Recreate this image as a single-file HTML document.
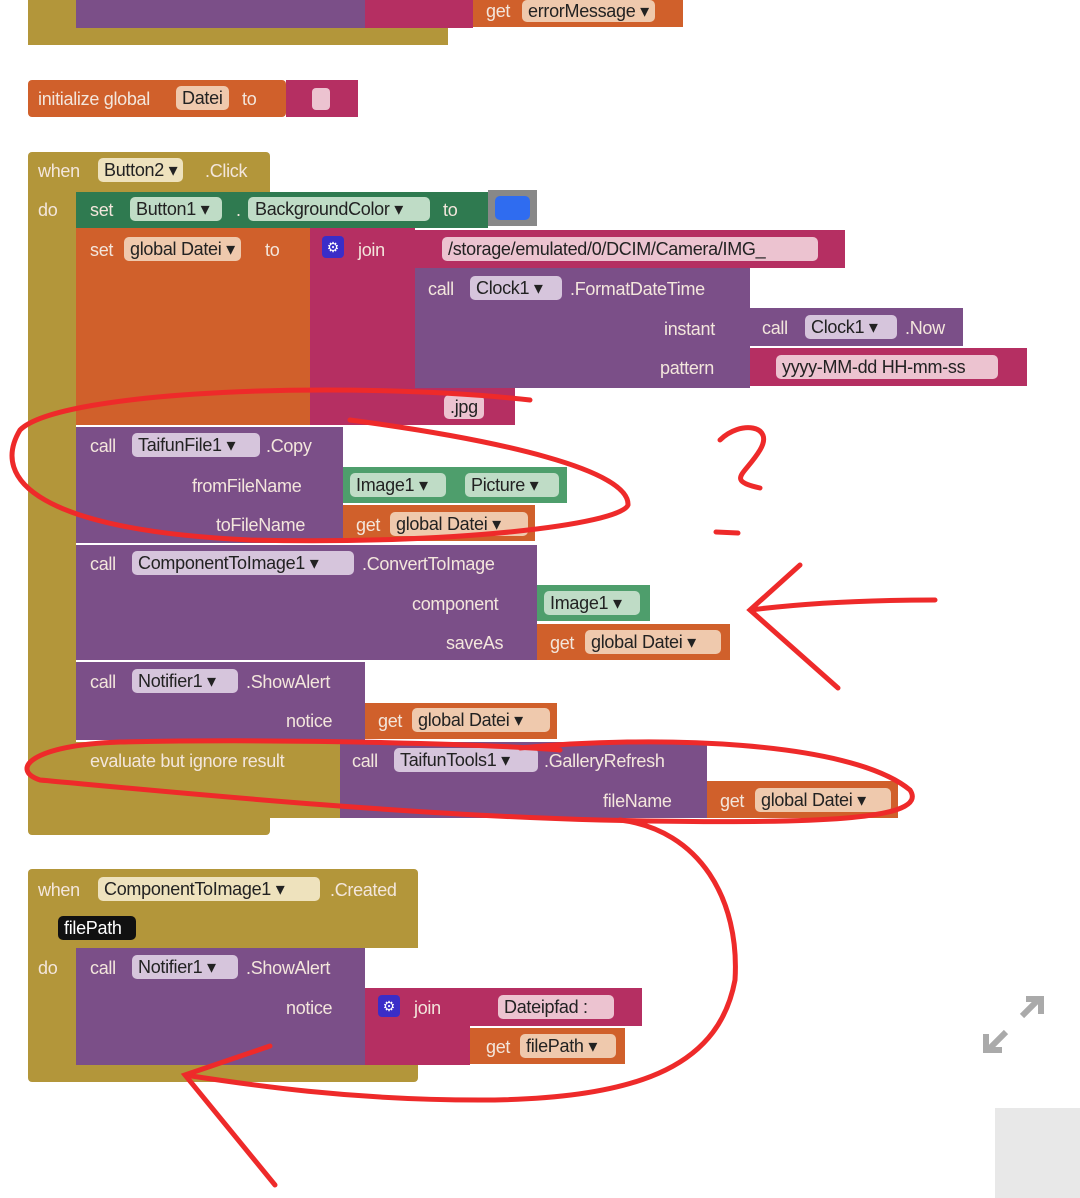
<!DOCTYPE html>
<html><head><meta charset="utf-8"><style>
body{margin:0;width:1080px;height:1198px;background:#fff;position:relative;overflow:hidden;font-family:"Liberation Sans",sans-serif;}
.b{position:absolute;}
.t{position:absolute;font-size:18px;color:#f3e6dc;white-space:nowrap;line-height:22px;letter-spacing:-0.3px}
.f{position:absolute;font-size:18px;color:#222;white-space:nowrap;line-height:24px;height:24px;border-radius:5px;padding:0 6px;box-sizing:border-box;letter-spacing:-0.3px}
.gold{background:#b3963a}.or{background:#d0602b}.mg{background:#b52f62}.pu{background:#7b4f88}.dg{background:#2f7a50}.lg{background:#4e9e6c}
.fo{background:#efc9ad}.fp{background:#d6c5dc}.fg{background:#bfdcc6}.fm{background:#ecc3d0}.fy{background:#eee2bd}
.gi{position:absolute;width:22px;height:22px;background:#3a2dc8;border-radius:4px;color:#fff;font-size:14px;text-align:center;line-height:22px}
</style></head><body>
<!-- top block -->
<div class="b gold" style="left:28px;top:0;width:420px;height:45px"></div>
<div class="b pu" style="left:76px;top:0;width:290px;height:28px"></div>
<div class="b mg" style="left:365px;top:0;width:108px;height:28px"></div>
<div class="b or" style="left:473px;top:0;width:210px;height:27px"></div>
<div class="t" style="left:486px;top:0">get</div><div class="f fo" style="left:522px;top:0;height:22px;line-height:22px">errorMessage ▾</div>

<!-- initialize -->
<div class="b or" style="left:28px;top:80px;width:258px;height:37px;border-radius:4px"></div>
<div class="b mg" style="left:286px;top:80px;width:72px;height:37px"></div>
<div class="t" style="left:38px;top:88px">initialize global</div>
<div class="f fo" style="left:176px;top:86px">Datei</div>
<div class="t" style="left:242px;top:88px">to</div>
<div class="b" style="left:312px;top:88px;width:18px;height:22px;background:#ecc3d0;border-radius:4px"></div>

<!-- when Button2 -->
<div class="b gold" style="left:28px;top:152px;width:242px;height:683px;border-radius:4px"></div>
<div class="b" style="left:76px;top:192px;width:194px;height:626px;background:#fff"></div>
<div class="t" style="left:38px;top:160px">when</div>
<div class="f fy" style="left:98px;top:158px">Button2 ▾</div>
<div class="t" style="left:205px;top:160px">.Click</div>
<div class="t" style="left:38px;top:199px">do</div>

<div class="b dg" style="left:76px;top:192px;width:412px;height:36px"></div>
<div class="t" style="left:90px;top:199px">set</div>
<div class="f fg" style="left:130px;top:197px;width:92px">Button1 ▾</div>
<div class="t" style="left:236px;top:199px">.</div>
<div class="f fg" style="left:248px;top:197px;width:182px;padding-left:7px">BackgroundColor ▾</div>
<div class="t" style="left:443px;top:199px">to</div>
<div class="b" style="left:488px;top:190px;width:49px;height:36px;background:#888"></div>
<div class="b" style="left:495px;top:196px;width:35px;height:24px;background:#2f6cf0;border-radius:5px"></div>

<div class="b or" style="left:76px;top:228px;width:234px;height:197px"></div>
<div class="t" style="left:90px;top:239px">set</div>
<div class="f fo" style="left:124px;top:237px">global Datei ▾</div>
<div class="t" style="left:265px;top:239px">to</div>
<div class="b mg" style="left:310px;top:228px;width:105px;height:197px"></div>
<div class="gi" style="left:322px;top:236px">⚙</div>
<div class="t" style="left:358px;top:239px">join</div>
<div class="b mg" style="left:415px;top:230px;width:430px;height:38px"></div>
<div class="f fm" style="left:442px;top:237px;width:376px">/storage/emulated/0/DCIM/Camera/IMG_</div>
<div class="b pu" style="left:415px;top:268px;width:335px;height:120px"></div>
<div class="t" style="left:428px;top:278px">call</div>
<div class="f fp" style="left:470px;top:276px;width:92px">Clock1 ▾</div>
<div class="t" style="left:570px;top:278px">.FormatDateTime</div>
<div class="t" style="left:664px;top:318px">instant</div>
<div class="t" style="left:660px;top:357px">pattern</div>
<div class="b pu" style="left:750px;top:308px;width:213px;height:38px"></div>
<div class="t" style="left:762px;top:317px">call</div>
<div class="f fp" style="left:805px;top:315px;width:92px">Clock1 ▾</div>
<div class="t" style="left:905px;top:317px">.Now</div>
<div class="b mg" style="left:750px;top:348px;width:277px;height:38px"></div>
<div class="f fm" style="left:776px;top:355px;width:222px">yyyy-MM-dd HH-mm-ss</div>
<div class="b mg" style="left:415px;top:388px;width:100px;height:37px"></div>
<div class="f fm" style="left:444px;top:395px">.jpg</div>

<div class="b pu" style="left:76px;top:427px;width:267px;height:116px"></div>
<div class="t" style="left:90px;top:435px">call</div>
<div class="f fp" style="left:132px;top:433px;width:128px">TaifunFile1 ▾</div>
<div class="t" style="left:266px;top:435px">.Copy</div>
<div class="t" style="left:192px;top:475px">fromFileName</div>
<div class="t" style="left:216px;top:514px">toFileName</div>
<div class="b lg" style="left:343px;top:467px;width:224px;height:36px"></div>
<div class="f fg" style="left:350px;top:473px;width:96px">Image1 ▾</div>
<div class="f fg" style="left:465px;top:473px;width:94px">Picture ▾</div>
<div class="b or" style="left:343px;top:505px;width:192px;height:36px"></div>
<div class="t" style="left:356px;top:514px">get</div>
<div class="f fo" style="left:390px;top:512px;width:138px">global Datei ▾</div>

<div class="b pu" style="left:76px;top:545px;width:461px;height:115px"></div>
<div class="t" style="left:90px;top:553px">call</div>
<div class="f fp" style="left:132px;top:551px;width:222px">ComponentToImage1 ▾</div>
<div class="t" style="left:362px;top:553px">.ConvertToImage</div>
<div class="t" style="left:412px;top:593px">component</div>
<div class="t" style="left:446px;top:632px">saveAs</div>
<div class="b lg" style="left:537px;top:585px;width:113px;height:36px"></div>
<div class="f fg" style="left:544px;top:591px;width:96px">Image1 ▾</div>
<div class="b or" style="left:537px;top:624px;width:193px;height:36px"></div>
<div class="t" style="left:550px;top:632px">get</div>
<div class="f fo" style="left:585px;top:630px;width:136px">global Datei ▾</div>

<div class="b pu" style="left:76px;top:662px;width:289px;height:78px"></div>
<div class="t" style="left:90px;top:671px">call</div>
<div class="f fp" style="left:132px;top:669px;width:106px">Notifier1 ▾</div>
<div class="t" style="left:246px;top:671px">.ShowAlert</div>
<div class="t" style="left:286px;top:710px">notice</div>
<div class="b or" style="left:365px;top:703px;width:192px;height:36px"></div>
<div class="t" style="left:378px;top:710px">get</div>
<div class="f fo" style="left:412px;top:708px;width:138px">global Datei ▾</div>

<div class="b gold" style="left:76px;top:742px;width:264px;height:76px"></div>
<div class="t" style="left:90px;top:750px">evaluate but ignore result</div>
<div class="b pu" style="left:340px;top:742px;width:367px;height:76px"></div>
<div class="t" style="left:352px;top:750px">call</div>
<div class="f fp" style="left:394px;top:748px;width:144px">TaifunTools1 ▾</div>
<div class="t" style="left:544px;top:750px">.GalleryRefresh</div>
<div class="t" style="left:603px;top:790px">fileName</div>
<div class="b or" style="left:707px;top:781px;width:191px;height:37px"></div>
<div class="t" style="left:720px;top:790px">get</div>
<div class="f fo" style="left:755px;top:788px;width:136px">global Datei ▾</div>

<!-- second event -->
<div class="b gold" style="left:28px;top:869px;width:390px;height:213px;border-radius:4px"></div>
<div class="b" style="left:76px;top:948px;width:342px;height:117px;background:#fff"></div>
<div class="t" style="left:38px;top:879px">when</div>
<div class="f fy" style="left:98px;top:877px;width:222px">ComponentToImage1 ▾</div>
<div class="t" style="left:330px;top:879px">.Created</div>
<div class="f" style="left:58px;top:916px;background:#111;color:#fff;padding:0 6px;width:78px">filePath</div>
<div class="t" style="left:38px;top:957px">do</div>
<div class="b pu" style="left:76px;top:948px;width:289px;height:117px"></div>
<div class="t" style="left:90px;top:957px">call</div>
<div class="f fp" style="left:132px;top:955px;width:106px">Notifier1 ▾</div>
<div class="t" style="left:246px;top:957px">.ShowAlert</div>
<div class="t" style="left:286px;top:997px">notice</div>
<div class="b mg" style="left:365px;top:988px;width:105px;height:77px"></div>
<div class="gi" style="left:378px;top:995px">⚙</div>
<div class="t" style="left:414px;top:997px">join</div>
<div class="b mg" style="left:470px;top:988px;width:172px;height:38px"></div>
<div class="f fm" style="left:498px;top:995px;width:116px">Dateipfad :</div>
<div class="b or" style="left:470px;top:1028px;width:155px;height:36px"></div>
<div class="t" style="left:486px;top:1036px">get</div>
<div class="f fo" style="left:520px;top:1034px;width:96px">filePath ▾</div>

<svg class="b" style="left:0;top:0" width="1080" height="1198">
<g stroke="#aaa" stroke-width="6" fill="none"><path d="M990 1048 L1006 1032 M1022 1016 L1038 1000"/><path d="M986 1034 V1050 H1002 M1026 999 H1041 V1014"/></g>
<rect x="995" y="1108" width="85" height="90" fill="#e8e8e8"/>
<g stroke="#ee2a2a" stroke-width="5" fill="none" stroke-linecap="round">
<path d="M530 400 C350 380 60 390 20 430 C-10 480 40 530 250 540 C450 545 620 525 628 505 C630 470 500 440 350 420"/>
<path d="M720 440 C740 420 775 425 760 450 C745 475 725 480 760 488"/>
<path d="M716 532 L738 533"/>
<path d="M935 600 C850 600 790 605 750 610 M800 565 L750 610 L838 688"/>
<path d="M520 748 C650 735 850 740 910 790 C930 820 820 825 600 820 C400 815 150 790 40 780 C10 770 30 745 120 742 C300 738 500 745 560 750"/>
<path d="M620 820 C700 830 740 900 735 980 C720 1060 650 1100 480 1100 C350 1100 250 1085 185 1075 M270 1046 L185 1075 L275 1185"/>
</g>
</svg>
</body></html>
